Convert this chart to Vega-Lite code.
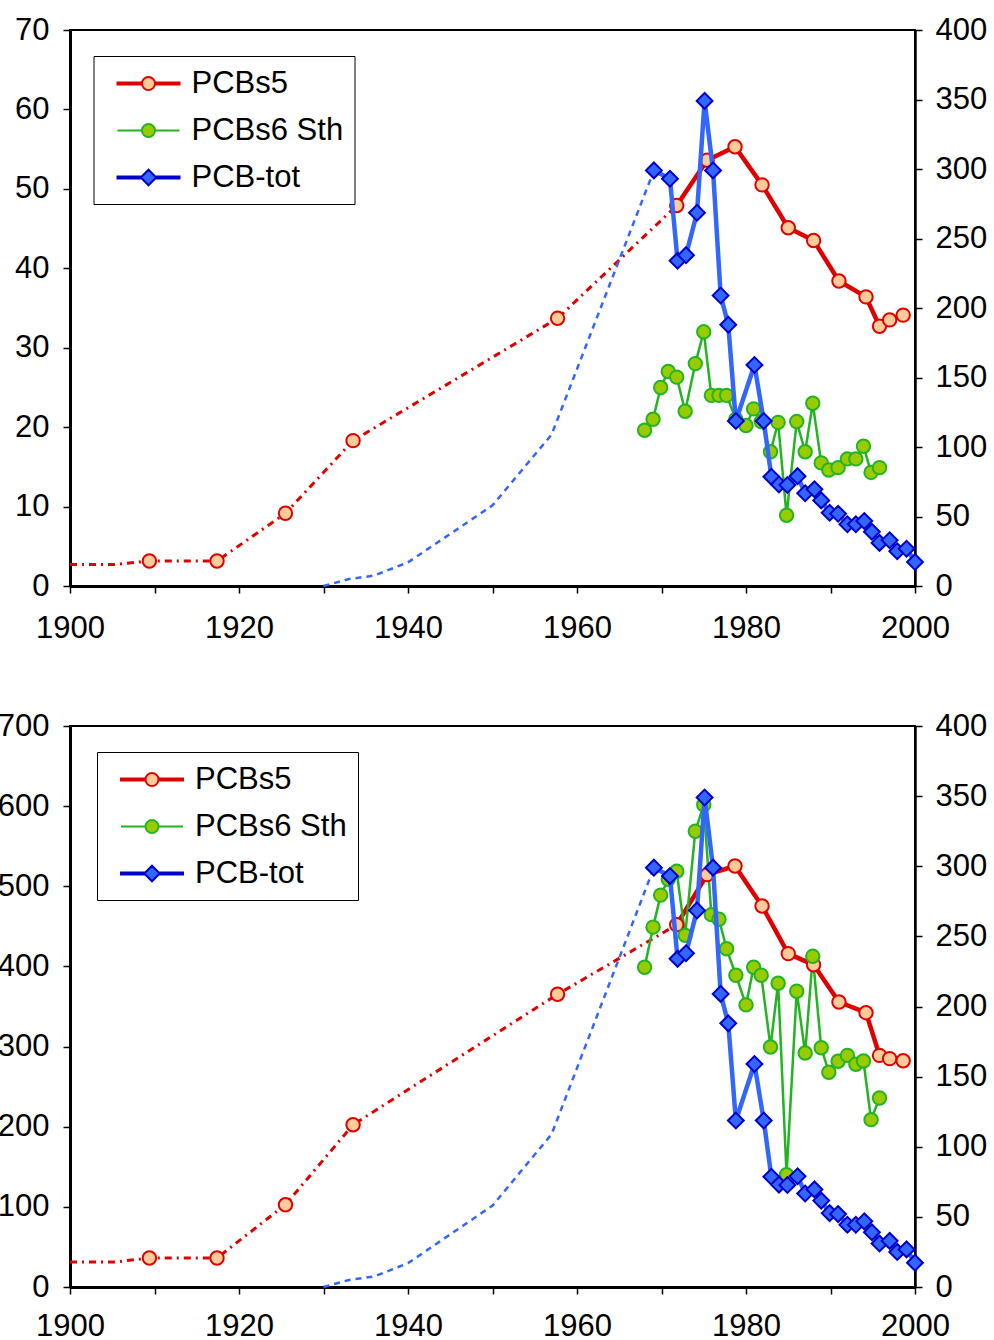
{
  "$schema": "https://vega.github.io/schema/vega-lite/v6.json",
  "background": "white",
  "padding": {"left": -4, "top": 13, "right": 3, "bottom": 0},
  "spacing": 65,
  "resolve": {"scale": {"stroke": "independent", "fill": "independent", "shape": "independent"}, "legend": {"stroke": "independent", "fill": "independent", "shape": "independent"}},
  "config": {
    "font": "Liberation Sans",
    "view": {"stroke": "#000000", "strokeWidth": 2},
    "axis": {"labelFont": "Liberation Sans", "labelFontSize": 31, "labelColor": "#000000", "domainColor": "#000000", "domainWidth": 2.5, "tickColor": "#000000", "tickWidth": 1.5, "tickSize": 7, "grid": false},
    "legend": {"labelFont": "Liberation Sans", "labelColor": "#000000"}
  },
  "datasets": {
    "p5top": [
      {"series": "PCBs5", "year": 1909.4, "value": 3.15},
      {"series": "PCBs5", "year": 1917.4, "value": 3.15},
      {"series": "PCBs5", "year": 1925.5, "value": 9.15},
      {"series": "PCBs5", "year": 1933.5, "value": 18.3},
      {"series": "PCBs5", "year": 1957.7, "value": 33.7},
      {"series": "PCBs5", "year": 1971.8, "value": 47.9},
      {"series": "PCBs5", "year": 1975.4, "value": 53.6},
      {"series": "PCBs5", "year": 1978.7, "value": 55.3},
      {"series": "PCBs5", "year": 1981.9, "value": 50.5},
      {"series": "PCBs5", "year": 1985.0, "value": 45.1},
      {"series": "PCBs5", "year": 1988.0, "value": 43.5},
      {"series": "PCBs5", "year": 1991.0, "value": 38.4},
      {"series": "PCBs5", "year": 1994.2, "value": 36.4},
      {"series": "PCBs5", "year": 1995.8, "value": 32.7},
      {"series": "PCBs5", "year": 1997.0, "value": 33.5},
      {"series": "PCBs5", "year": 1998.6, "value": 34.1}
    ],
    "p5topLine": [
      {"year": 1900, "value": 2.7},
      {"year": 1905.2, "value": 2.7},
      {"year": 1909.4, "value": 3.15},
      {"year": 1917.4, "value": 3.15},
      {"year": 1925.5, "value": 9.15},
      {"year": 1933.5, "value": 18.3},
      {"year": 1957.7, "value": 33.7},
      {"year": 1971.8, "value": 47.9}
    ],
    "p6top": [
      {"series": "PCBs6 Sth", "year": 1968.0, "value": 19.6},
      {"series": "PCBs6 Sth", "year": 1969.0, "value": 21.0},
      {"series": "PCBs6 Sth", "year": 1969.9, "value": 25.0},
      {"series": "PCBs6 Sth", "year": 1970.8, "value": 27.0},
      {"series": "PCBs6 Sth", "year": 1971.8, "value": 26.3},
      {"series": "PCBs6 Sth", "year": 1972.8, "value": 22.0},
      {"series": "PCBs6 Sth", "year": 1974.0, "value": 28.0},
      {"series": "PCBs6 Sth", "year": 1975.0, "value": 32.0},
      {"series": "PCBs6 Sth", "year": 1975.9, "value": 24.0},
      {"series": "PCBs6 Sth", "year": 1976.8, "value": 24.0},
      {"series": "PCBs6 Sth", "year": 1977.7, "value": 24.0},
      {"series": "PCBs6 Sth", "year": 1978.8, "value": 21.0},
      {"series": "PCBs6 Sth", "year": 1980.0, "value": 20.2},
      {"series": "PCBs6 Sth", "year": 1980.9, "value": 22.3},
      {"series": "PCBs6 Sth", "year": 1981.8, "value": 20.7},
      {"series": "PCBs6 Sth", "year": 1982.9, "value": 16.9},
      {"series": "PCBs6 Sth", "year": 1983.8, "value": 20.6},
      {"series": "PCBs6 Sth", "year": 1984.8, "value": 8.9},
      {"series": "PCBs6 Sth", "year": 1986.0, "value": 20.7},
      {"series": "PCBs6 Sth", "year": 1987.0, "value": 16.9},
      {"series": "PCBs6 Sth", "year": 1987.9, "value": 23.0},
      {"series": "PCBs6 Sth", "year": 1988.9, "value": 15.5},
      {"series": "PCBs6 Sth", "year": 1989.8, "value": 14.6},
      {"series": "PCBs6 Sth", "year": 1990.9, "value": 14.9},
      {"series": "PCBs6 Sth", "year": 1992.0, "value": 16.0},
      {"series": "PCBs6 Sth", "year": 1993.0, "value": 16.0},
      {"series": "PCBs6 Sth", "year": 1993.9, "value": 17.6},
      {"series": "PCBs6 Sth", "year": 1994.8, "value": 14.3},
      {"series": "PCBs6 Sth", "year": 1995.8, "value": 14.9}
    ],
    "p5bot": [
      {"series": "PCBs5", "year": 1909.4, "value": 36.2},
      {"series": "PCBs5", "year": 1917.4, "value": 36.2},
      {"series": "PCBs5", "year": 1925.5, "value": 102.7},
      {"series": "PCBs5", "year": 1933.5, "value": 202.5},
      {"series": "PCBs5", "year": 1957.7, "value": 365.2},
      {"series": "PCBs5", "year": 1971.8, "value": 452},
      {"series": "PCBs5", "year": 1975.4, "value": 514.5},
      {"series": "PCBs5", "year": 1978.7, "value": 525.3},
      {"series": "PCBs5", "year": 1981.9, "value": 475.4},
      {"series": "PCBs5", "year": 1985.0, "value": 416},
      {"series": "PCBs5", "year": 1988.0, "value": 402},
      {"series": "PCBs5", "year": 1991.0, "value": 355.6},
      {"series": "PCBs5", "year": 1994.2, "value": 342.3},
      {"series": "PCBs5", "year": 1995.8, "value": 289},
      {"series": "PCBs5", "year": 1997.0, "value": 285},
      {"series": "PCBs5", "year": 1998.6, "value": 282.4}
    ],
    "p5botLine": [
      {"year": 1900, "value": 31.2},
      {"year": 1905.3, "value": 31.2},
      {"year": 1909.4, "value": 36.2},
      {"year": 1917.4, "value": 36.2},
      {"year": 1925.5, "value": 102.7},
      {"year": 1933.5, "value": 202.5},
      {"year": 1957.7, "value": 365.2},
      {"year": 1971.8, "value": 452}
    ],
    "p6bot": [
      {"series": "PCBs6 Sth", "year": 1968.0, "value": 399},
      {"series": "PCBs6 Sth", "year": 1969.0, "value": 449},
      {"series": "PCBs6 Sth", "year": 1969.9, "value": 489},
      {"series": "PCBs6 Sth", "year": 1970.8, "value": 508.7},
      {"series": "PCBs6 Sth", "year": 1971.8, "value": 518.7},
      {"series": "PCBs6 Sth", "year": 1972.8, "value": 438.8},
      {"series": "PCBs6 Sth", "year": 1974.0, "value": 568.6},
      {"series": "PCBs6 Sth", "year": 1975.0, "value": 601.8},
      {"series": "PCBs6 Sth", "year": 1975.9, "value": 464.6},
      {"series": "PCBs6 Sth", "year": 1976.8, "value": 458.8},
      {"series": "PCBs6 Sth", "year": 1977.7, "value": 422},
      {"series": "PCBs6 Sth", "year": 1978.8, "value": 389},
      {"series": "PCBs6 Sth", "year": 1980.0, "value": 352},
      {"series": "PCBs6 Sth", "year": 1980.9, "value": 399},
      {"series": "PCBs6 Sth", "year": 1981.8, "value": 389},
      {"series": "PCBs6 Sth", "year": 1982.9, "value": 299.5},
      {"series": "PCBs6 Sth", "year": 1983.8, "value": 379},
      {"series": "PCBs6 Sth", "year": 1984.8, "value": 140},
      {"series": "PCBs6 Sth", "year": 1986.0, "value": 369},
      {"series": "PCBs6 Sth", "year": 1987.0, "value": 292},
      {"series": "PCBs6 Sth", "year": 1987.9, "value": 412.6},
      {"series": "PCBs6 Sth", "year": 1988.9, "value": 298.6},
      {"series": "PCBs6 Sth", "year": 1989.8, "value": 268},
      {"series": "PCBs6 Sth", "year": 1990.9, "value": 281.6},
      {"series": "PCBs6 Sth", "year": 1992.0, "value": 289},
      {"series": "PCBs6 Sth", "year": 1993.0, "value": 278},
      {"series": "PCBs6 Sth", "year": 1993.9, "value": 282},
      {"series": "PCBs6 Sth", "year": 1994.8, "value": 208.8},
      {"series": "PCBs6 Sth", "year": 1995.8, "value": 235.8}
    ],
    "tot": [
      {"series": "PCB-tot", "year": 1969.1, "value": 299},
      {"series": "PCB-tot", "year": 1971.0, "value": 293},
      {"series": "PCB-tot", "year": 1971.9, "value": 234},
      {"series": "PCB-tot", "year": 1972.9, "value": 238},
      {"series": "PCB-tot", "year": 1974.2, "value": 268.5},
      {"series": "PCB-tot", "year": 1975.1, "value": 349},
      {"series": "PCB-tot", "year": 1976.1, "value": 299},
      {"series": "PCB-tot", "year": 1977.0, "value": 209},
      {"series": "PCB-tot", "year": 1977.9, "value": 188},
      {"series": "PCB-tot", "year": 1978.8, "value": 118.7},
      {"series": "PCB-tot", "year": 1981.0, "value": 159},
      {"series": "PCB-tot", "year": 1982.1, "value": 118.7},
      {"series": "PCB-tot", "year": 1983.0, "value": 78.6},
      {"series": "PCB-tot", "year": 1983.9, "value": 73},
      {"series": "PCB-tot", "year": 1984.9, "value": 72.7},
      {"series": "PCB-tot", "year": 1986.1, "value": 79},
      {"series": "PCB-tot", "year": 1987.0, "value": 66.7},
      {"series": "PCB-tot", "year": 1988.1, "value": 69.6},
      {"series": "PCB-tot", "year": 1988.9, "value": 61.6},
      {"series": "PCB-tot", "year": 1989.9, "value": 52.7},
      {"series": "PCB-tot", "year": 1990.9, "value": 52},
      {"series": "PCB-tot", "year": 1992.0, "value": 44.4},
      {"series": "PCB-tot", "year": 1993.0, "value": 44.4},
      {"series": "PCB-tot", "year": 1994.0, "value": 46.8},
      {"series": "PCB-tot", "year": 1994.9, "value": 39},
      {"series": "PCB-tot", "year": 1995.8, "value": 31},
      {"series": "PCB-tot", "year": 1997.0, "value": 32.9},
      {"series": "PCB-tot", "year": 1997.9, "value": 25},
      {"series": "PCB-tot", "year": 1999.0, "value": 26.8},
      {"series": "PCB-tot", "year": 2000.0, "value": 17.3}
    ],
    "totLine": [
      {"year": 1930, "value": 0},
      {"year": 1933, "value": 5},
      {"year": 1936, "value": 7.5},
      {"year": 1940, "value": 17},
      {"year": 1950, "value": 58},
      {"year": 1957, "value": 109},
      {"year": 1969.1, "value": 299}
    ]
  },
  "vconcat": [
    {
      "width": 845,
      "height": 556,
      "layer": [
        {
          "encoding": {
            "x": {"field": "year", "type": "quantitative", "scale": {"domain": [1900, 2000], "nice": false, "zero": false}, "axis": {"values": [1900, 1910, 1920, 1930, 1940, 1950, 1960, 1970, 1980, 1990, 2000], "format": "d", "labelExpr": "datum.value % 20 === 0 ? datum.label : ''", "labelFlush": false, "labelOverlap": false, "labelPadding": 20, "title": null, "domainWidth": 3}},
            "y": {"field": "value", "type": "quantitative", "scale": {"domain": [0, 70], "nice": false}, "axis": {"orient": "left", "values": [0, 10, 20, 30, 40, 50, 60, 70], "title": null, "labelPadding": 14, "domainWidth": 3}}
          },
          "layer": [
            {"data": {"name": "p5topLine"}, "mark": {"type": "line", "stroke": "#E00000", "strokeWidth": 3, "strokeDash": [7, 5, 2, 5]}, "encoding": {}},
            {"data": {"name": "p5top"}, "transform": [{"filter": "datum.year > 1970"}], "mark": {"type": "line", "stroke": "#E00000", "strokeWidth": 4.5, "strokeJoin": "round"}, "encoding": {}},
            {"data": {"name": "p6top"}, "mark": {"type": "line", "stroke": "#22B422", "strokeWidth": 2.5, "strokeJoin": "round"}, "encoding": {}},
            {"data": {"name": "p5top"}, "mark": {"type": "point", "shape": "circle", "size": 180, "filled": true, "fill": "#FFCC99", "stroke": "#E00000", "strokeWidth": 2, "opacity": 1}, "encoding": {}},
            {"data": {"name": "p6top"}, "mark": {"type": "point", "shape": "circle", "size": 180, "filled": true, "fill": "#99CC00", "stroke": "#22B422", "strokeWidth": 2, "opacity": 1}, "encoding": {}},
            {"data": {"name": "p6top"}, "mark": {"type": "point", "opacity": 0},
              "encoding": {
                "stroke": {"field": "series", "type": "nominal", "scale": {"domain": ["PCBs5", "PCBs6 Sth", "PCB-tot"], "range": ["#E00000", "#22B422", "#0000CC"]}, "legend": {"orient": "none", "legendX": 23.5, "legendY": 26, "title": null, "padding": 11, "strokeColor": "#000000", "fillColor": "#FFFFFF", "labelFontSize": 31, "symbolSize": 961, "symbolStrokeWidth": 2, "symbolOpacity": 1, "symbolFillColor": "#FFFFFF", "symbolOffset": 27.5, "labelOffset": 26.5, "rowPadding": 15, "labelLimit": 400}},
                "fill": {"field": "series", "type": "nominal", "scale": {"domain": ["PCBs5", "PCBs6 Sth", "PCB-tot"], "range": ["#FFCC99", "#99CC00", "#3366FF"]}, "legend": {"orient": "none", "legendX": 23.5, "legendY": 26, "title": null, "padding": 11, "strokeColor": "#000000", "fillColor": "#FFFFFF", "labelFontSize": 31, "symbolSize": 961, "symbolStrokeWidth": 2, "symbolOpacity": 1, "symbolFillColor": "#FFFFFF", "symbolOffset": 27.5, "labelOffset": 26.5, "rowPadding": 15, "labelLimit": 400}},
                "shape": {"field": "series", "type": "nominal", "scale": {"domain": ["PCBs5", "PCBs6 Sth", "PCB-tot"], "range": ["M-2,-0.058H-0.42V0.058H-2Z M0.42,-0.058H2V0.058H0.42Z M0.42,0A0.42,0.42,0,1,1,-0.42,0A0.42,0.42,0,1,1,0.42,0Z", "M-2,0H-0.42M0.42,0H2M0.42,0A0.42,0.42,0,1,1,-0.42,0A0.42,0.42,0,1,1,0.42,0Z", "M-2,-0.058H-0.5V0.058H-2Z M0.5,-0.058H2V0.058H0.5Z M0,-0.5L0.5,0L0,0.5L-0.5,0Z"]}, "legend": {"orient": "none", "legendX": 23.5, "legendY": 26, "title": null, "padding": 11, "strokeColor": "#000000", "fillColor": "#FFFFFF", "labelFontSize": 31, "symbolSize": 961, "symbolStrokeWidth": 2, "symbolOpacity": 1, "symbolFillColor": "#FFFFFF", "symbolOffset": 27.5, "labelOffset": 26.5, "rowPadding": 15, "labelLimit": 400}}
              }}
          ]
        },
        {
          "encoding": {
            "x": {"field": "year", "type": "quantitative", "scale": {"domain": [1900, 2000], "nice": false, "zero": false}},
            "y": {"field": "value", "type": "quantitative", "scale": {"domain": [0, 400], "nice": false}, "axis": {"orient": "right", "values": [0, 50, 100, 150, 200, 250, 300, 350, 400], "title": null, "labelPadding": 13}}
          },
          "layer": [
            {"data": {"name": "totLine"}, "mark": {"type": "line", "stroke": "#3366FF", "strokeWidth": 2.5, "strokeDash": [6, 5]}, "encoding": {}},
            {"data": {"name": "tot"}, "mark": {"type": "line", "stroke": "#3366FF", "strokeWidth": 4.5, "strokeJoin": "round"}, "encoding": {}},
            {"data": {"name": "tot"}, "mark": {"type": "point", "shape": "diamond", "size": 250, "filled": true, "fill": "#3366FF", "stroke": "#0000CC", "strokeWidth": 2, "opacity": 1}, "encoding": {}}
          ]
        }
      ],
      "resolve": {"scale": {"y": "independent"}}
    },
    {
      "width": 845,
      "height": 561,
      "layer": [
        {
          "encoding": {
            "x": {"field": "year", "type": "quantitative", "scale": {"domain": [1900, 2000], "nice": false, "zero": false}, "axis": {"values": [1900, 1910, 1920, 1930, 1940, 1950, 1960, 1970, 1980, 1990, 2000], "format": "d", "labelExpr": "datum.value % 20 === 0 ? datum.label : ''", "labelFlush": false, "labelOverlap": false, "labelPadding": 17, "title": null, "domainWidth": 3}},
            "y": {"field": "value", "type": "quantitative", "scale": {"domain": [0, 700], "nice": false}, "axis": {"orient": "left", "values": [0, 100, 200, 300, 400, 500, 600, 700], "title": null, "labelPadding": 14, "domainWidth": 3}}
          },
          "layer": [
            {"data": {"name": "p5botLine"}, "mark": {"type": "line", "stroke": "#E00000", "strokeWidth": 3, "strokeDash": [7, 5, 2, 5]}, "encoding": {}},
            {"data": {"name": "p5bot"}, "transform": [{"filter": "datum.year > 1970"}], "mark": {"type": "line", "stroke": "#E00000", "strokeWidth": 4.5, "strokeJoin": "round"}, "encoding": {}},
            {"data": {"name": "p6bot"}, "mark": {"type": "line", "stroke": "#22B422", "strokeWidth": 2.5, "strokeJoin": "round"}, "encoding": {}},
            {"data": {"name": "p5bot"}, "mark": {"type": "point", "shape": "circle", "size": 180, "filled": true, "fill": "#FFCC99", "stroke": "#E00000", "strokeWidth": 2, "opacity": 1}, "encoding": {}},
            {"data": {"name": "p6bot"}, "mark": {"type": "point", "shape": "circle", "size": 180, "filled": true, "fill": "#99CC00", "stroke": "#22B422", "strokeWidth": 2, "opacity": 1}, "encoding": {}},
            {"data": {"name": "p6bot"}, "mark": {"type": "point", "opacity": 0},
              "encoding": {
                "stroke": {"field": "series", "type": "nominal", "scale": {"domain": ["PCBs5", "PCBs6 Sth", "PCB-tot"], "range": ["#E00000", "#22B422", "#0000CC"]}, "legend": {"orient": "none", "legendX": 27, "legendY": 26, "title": null, "padding": 11, "strokeColor": "#000000", "fillColor": "#FFFFFF", "labelFontSize": 31, "symbolSize": 961, "symbolStrokeWidth": 2, "symbolOpacity": 1, "symbolFillColor": "#FFFFFF", "symbolOffset": 27.5, "labelOffset": 26.5, "rowPadding": 15, "labelLimit": 400}},
                "fill": {"field": "series", "type": "nominal", "scale": {"domain": ["PCBs5", "PCBs6 Sth", "PCB-tot"], "range": ["#FFCC99", "#99CC00", "#3366FF"]}, "legend": {"orient": "none", "legendX": 27, "legendY": 26, "title": null, "padding": 11, "strokeColor": "#000000", "fillColor": "#FFFFFF", "labelFontSize": 31, "symbolSize": 961, "symbolStrokeWidth": 2, "symbolOpacity": 1, "symbolFillColor": "#FFFFFF", "symbolOffset": 27.5, "labelOffset": 26.5, "rowPadding": 15, "labelLimit": 400}},
                "shape": {"field": "series", "type": "nominal", "scale": {"domain": ["PCBs5", "PCBs6 Sth", "PCB-tot"], "range": ["M-2,-0.058H-0.42V0.058H-2Z M0.42,-0.058H2V0.058H0.42Z M0.42,0A0.42,0.42,0,1,1,-0.42,0A0.42,0.42,0,1,1,0.42,0Z", "M-2,0H-0.42M0.42,0H2M0.42,0A0.42,0.42,0,1,1,-0.42,0A0.42,0.42,0,1,1,0.42,0Z", "M-2,-0.058H-0.5V0.058H-2Z M0.5,-0.058H2V0.058H0.5Z M0,-0.5L0.5,0L0,0.5L-0.5,0Z"]}, "legend": {"orient": "none", "legendX": 27, "legendY": 26, "title": null, "padding": 11, "strokeColor": "#000000", "fillColor": "#FFFFFF", "labelFontSize": 31, "symbolSize": 961, "symbolStrokeWidth": 2, "symbolOpacity": 1, "symbolFillColor": "#FFFFFF", "symbolOffset": 27.5, "labelOffset": 26.5, "rowPadding": 15, "labelLimit": 400}}
              }}
          ]
        },
        {
          "encoding": {
            "x": {"field": "year", "type": "quantitative", "scale": {"domain": [1900, 2000], "nice": false, "zero": false}},
            "y": {"field": "value", "type": "quantitative", "scale": {"domain": [0, 400], "nice": false}, "axis": {"orient": "right", "values": [0, 50, 100, 150, 200, 250, 300, 350, 400], "title": null, "labelPadding": 13}}
          },
          "layer": [
            {"data": {"name": "totLine"}, "mark": {"type": "line", "stroke": "#3366FF", "strokeWidth": 2.5, "strokeDash": [6, 5]}, "encoding": {}},
            {"data": {"name": "tot"}, "mark": {"type": "line", "stroke": "#3366FF", "strokeWidth": 4.5, "strokeJoin": "round"}, "encoding": {}},
            {"data": {"name": "tot"}, "mark": {"type": "point", "shape": "diamond", "size": 250, "filled": true, "fill": "#3366FF", "stroke": "#0000CC", "strokeWidth": 2, "opacity": 1}, "encoding": {}}
          ]
        }
      ],
      "resolve": {"scale": {"y": "independent"}}
    }
  ]
}
